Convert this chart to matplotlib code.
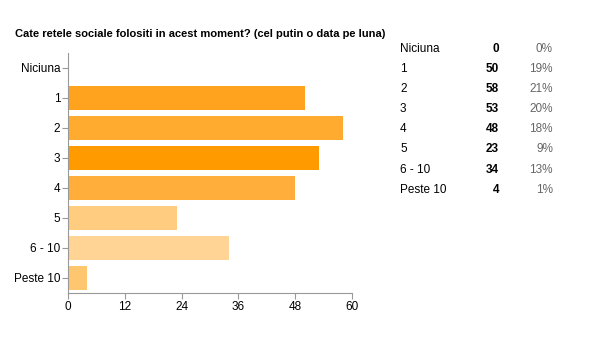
import numpy as np
import matplotlib.pyplot as plt

plt.rcParams['font.family'] = ['Liberation Sans', 'DejaVu Sans']

title = "Cate retele sociale folositi in acest moment? (cel putin o data pe luna)"
categories = ['Niciuna', '1', '2', '3', '4', '5', '6 - 10', 'Peste 10']
counts = [0, 50, 58, 53, 48, 23, 34, 4]
percents = ['0%', '19%', '21%', '20%', '18%', '9%', '13%', '1%']
colors = ['#ffb84d', '#ffa31f', '#ffab2f', '#ff9a00', '#ffae3b',
          '#ffcc80', '#ffd494', '#ffc670']
xticks = [0, 12, 24, 36, 48, 60]

fig = plt.figure(figsize=(5.98, 3.51), dpi=100)
ax = fig.add_axes([68 / 598, 1 - 293 / 351, 284 / 598, 240 / 351])

y = np.arange(len(categories))
ax.barh(y, counts, height=0.8, color=colors)
ax.set_ylim(len(categories) - 0.5, -0.5)
ax.set_xlim(0, 60)
ax.set_xticks(xticks)
ax.set_yticks(y)
ax.set_yticklabels(categories)

for side in ['top', 'right']:
    ax.spines[side].set_visible(False)
for side in ['left', 'bottom']:
    ax.spines[side].set_color('#999999')
ax.tick_params(axis='both', colors='#999999', labelcolor='black',
               labelsize=8.5, length=4, pad=1.5)

fig.text(15 / 598, 1 - 34 / 351, title, fontsize=8, fontweight='bold',
         va='center', ha='left')

# summary table on the right
for i, (cat, n, p) in enumerate(zip(categories, counts, percents)):
    yy = 1 - (49 + 20.1 * i) / 351
    fig.text(400 / 598, yy, cat, fontsize=8.5, va='center', ha='left')
    fig.text(499 / 598, yy, str(n), fontsize=8.5, fontweight='bold',
             va='center', ha='right')
    fig.text(553 / 598, yy, p, fontsize=8.5, color='#666666',
             va='center', ha='right')

fig.savefig('out.png', dpi=100)
